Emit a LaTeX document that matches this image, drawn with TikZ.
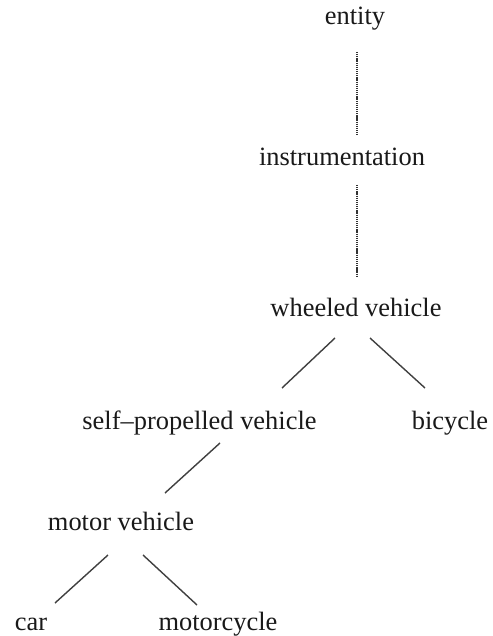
\documentclass[tikz,border=0pt]{standalone}
\usepackage{fontspec}
\setmainfont{Liberation Serif}
\begin{document}
\begin{tikzpicture}[x=0.025cm, y=-0.025cm,
    term/.style={anchor=base, inner sep=0pt, text=black!90, font=\fontsize{18.8}{22}\selectfont},
    link/.style={line width=1pt, black!75},
    chain/.style={line width=1.4pt, dash pattern=on 0.9pt off 0.6pt, black!80}]
    \useasboundingbox (0,0) rectangle (492,636);
    \node[term] (entity) at (355,25) {entity};
    \node[term] (instr) at (342,166) {instrumentation};
    \node[term] (wheeled) at (356,316) {wheeled vehicle};
    \node[term] (selfprop) at (199.5,429) {self--propelled vehicle};
    \node[term] (bicycle) at (450,429) {bicycle};
    \node[term] (motor) at (121,530) {motor vehicle};
    \node[term] (car) at (31,630) {car};
    \node[term] (motorcycle) at (218,630) {motorcycle};
    \draw[chain] ([shift={(2,27)}]entity.base) -- ([shift={(15,-31)}]instr.base);
    \draw[chain] ([shift={(15,19)}]instr.base) -- ([shift={(1,-39)}]wheeled.base);
    \draw[link] ([shift={(-21,22)}]wheeled.base) -- ([shift={(82.5,-41)}]selfprop.base);
    \draw[link] ([shift={(14,22)}]wheeled.base) -- ([shift={(-25,-41)}]bicycle.base);
    \draw[link] ([shift={(20.5,14)}]selfprop.base) -- ([shift={(44,-37)}]motor.base);
    \draw[link] ([shift={(-13,25)}]motor.base) -- ([shift={(24,-27)}]car.base);
    \draw[link] ([shift={(22,25)}]motor.base) -- ([shift={(-21,-25)}]motorcycle.base);
\end{tikzpicture}
\end{document}
